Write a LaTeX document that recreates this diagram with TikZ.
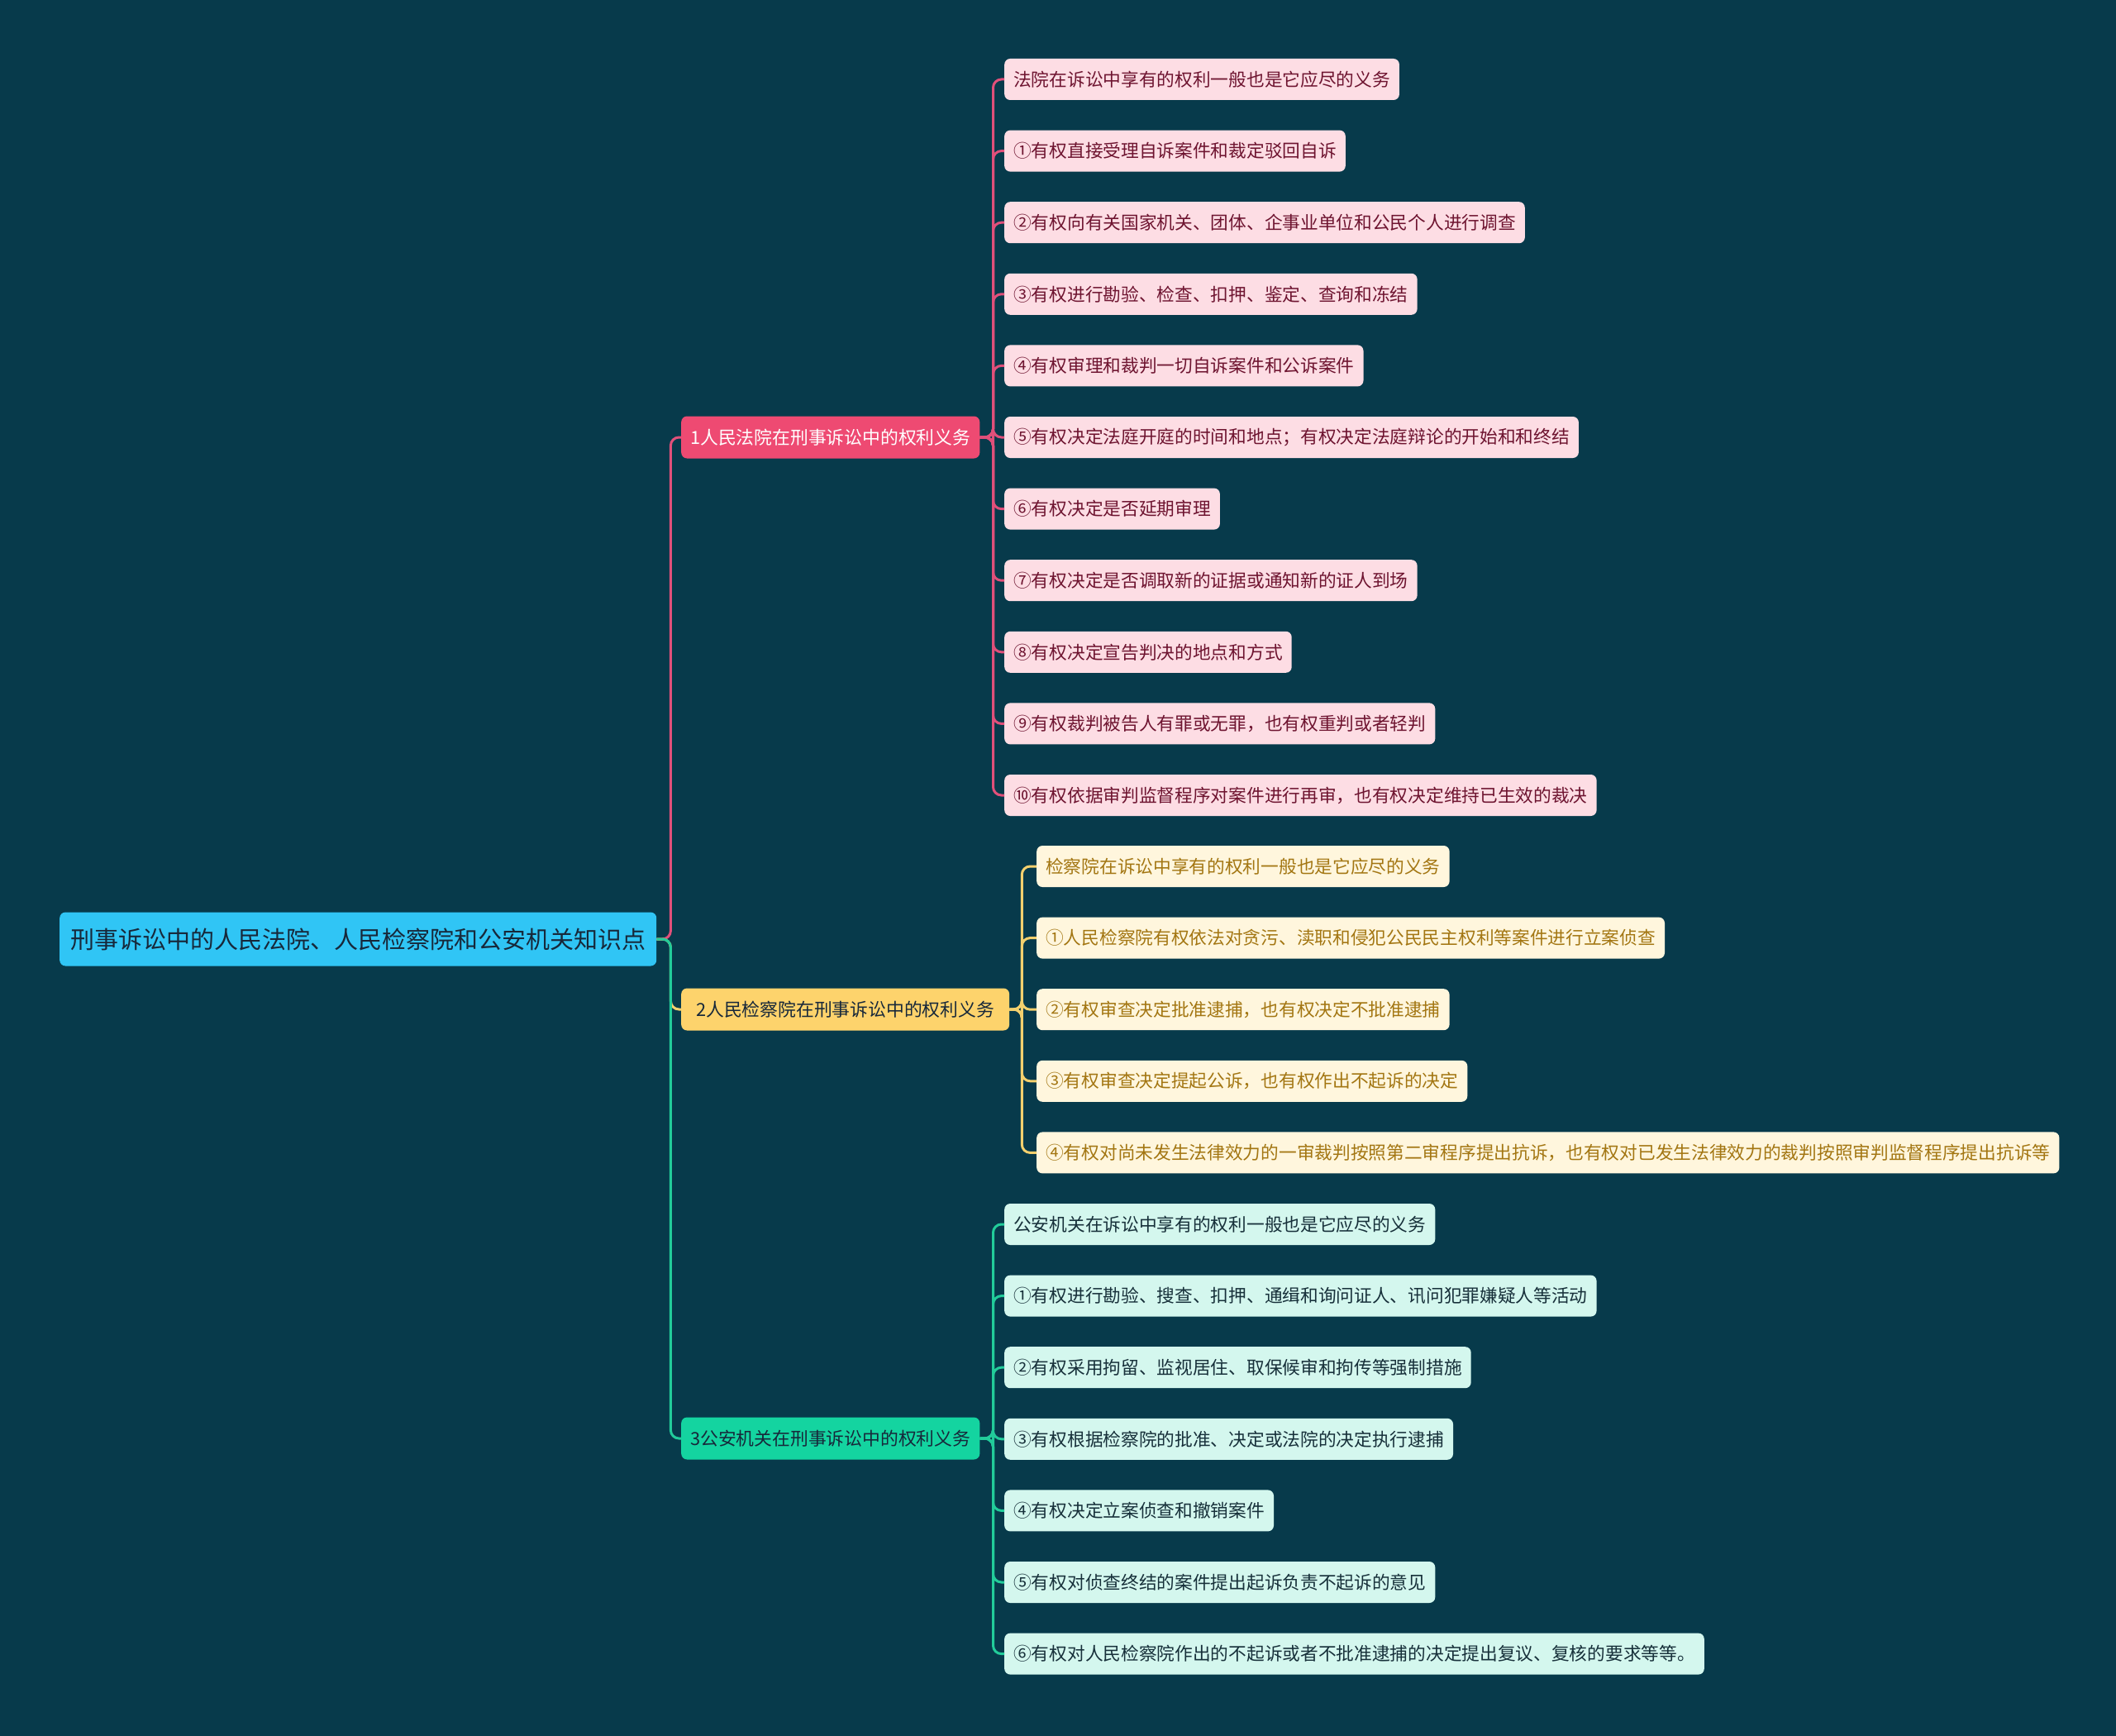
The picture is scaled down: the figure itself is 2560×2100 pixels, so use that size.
\documentclass[tikz,border=0pt]{standalone}
\usepackage{fontspec}
\setmainfont{Noto Sans CJK SC}
\usetikzlibrary{positioning}
\definecolor{bg}{HTML}{073A4B}
\definecolor{topicblue}{HTML}{30C5F5}
\definecolor{darktext}{HTML}{17283A}
\definecolor{courtred}{HTML}{EE4A72}
\definecolor{courtline}{HTML}{E0507A}
\definecolor{courtleaf}{HTML}{FDDDE4}
\definecolor{courttext}{HTML}{6E1430}
\definecolor{procyellow}{HTML}{FDD36C}
\definecolor{procline}{HTML}{F3D06E}
\definecolor{procleaf}{HTML}{FFF6DD}
\definecolor{proctext}{HTML}{A37612}
\definecolor{policegreen}{HTML}{14D4A0}
\definecolor{policeline}{HTML}{22CC9A}
\definecolor{policeleaf}{HTML}{D4F7EE}
\definecolor{policetext}{HTML}{17303A}
\tikzset{
 topic/.style={anchor=west,rounded corners=7pt,fill=topicblue,text=darktext,inner xsep=13pt,inner ysep=0pt,minimum height=65pt,font=\fontsize{29}{34}\selectfont},
 branch/.style={anchor=west,rounded corners=7pt,inner xsep=11pt,inner ysep=0pt,minimum height=51pt,font=\fontsize{21.8}{26}\selectfont},
 leaf/.style={anchor=west,rounded corners=7pt,inner xsep=11pt,inner ysep=0pt,minimum height=50pt,font=\fontsize{21.7}{26}\selectfont},
 link/.style={line width=3pt,rounded corners=10pt}
}
\begin{document}
\begin{tikzpicture}[x=1pt,y=-1pt]
\path[use as bounding box,fill=bg] (0,0) rectangle (2560,2100);
\node[topic] (root) at (72,1136) {刑事诉讼中的人民法院、人民检察院和公安机关知识点};
\node[branch,fill=courtred,text=white] (b1) at (824,529) {1人民法院在刑事诉讼中的权利义务};
\node[branch,fill=procyellow,text=darktext,inner xsep=18pt] (b2) at (824,1221) {2人民检察院在刑事诉讼中的权利义务};
\node[branch,fill=policegreen,text=darktext] (b3) at (824,1740) {3公安机关在刑事诉讼中的权利义务};
\draw[link,courtline] (root.east) -- ++(17,0) |- (b1.west);
\draw[link,procline] (root.east) -- ++(17,0) |- (b2.west);
\draw[link,policeline] (root.east) -- ++(17,0) |- (b3.west);
% court
\foreach \t [count=\i from 0] in {法院在诉讼中享有的权利一般也是它应尽的义务,①有权直接受理自诉案件和裁定驳回自诉,②有权向有关国家机关、团体、企事业单位和公民个人进行调查,③有权进行勘验、检查、扣押、鉴定、查询和冻结,④有权审理和裁判一切自诉案件和公诉案件,⑤有权决定法庭开庭的时间和地点；有权决定法庭辩论的开始和和终结,⑥有权决定是否延期审理,⑦有权决定是否调取新的证据或通知新的证人到场,⑧有权决定宣告判决的地点和方式,⑨有权裁判被告人有罪或无罪，也有权重判或者轻判,⑩有权依据审判监督程序对案件进行再审，也有权决定维持已生效的裁决}
 {\node[leaf,fill=courtleaf,text=courttext] (c\i) at (1215,{96+\i*86.6}) {\t};
  \draw[link,courtline] (b1.east) -- ++(16,0) |- (c\i.west);}
% procuratorate
\foreach \t [count=\i from 0] in {检察院在诉讼中享有的权利一般也是它应尽的义务,①人民检察院有权依法对贪污、渎职和侵犯公民民主权利等案件进行立案侦查,②有权审查决定批准逮捕，也有权决定不批准逮捕,③有权审查决定提起公诉，也有权作出不起诉的决定,④有权对尚未发生法律效力的一审裁判按照第二审程序提出抗诉，也有权对已发生法律效力的裁判按照审判监督程序提出抗诉等}
 {\node[leaf,fill=procleaf,text=proctext] (p\i) at (1254,{1048+\i*86.6}) {\t};
  \draw[link,procline] (b2.east) -- ++(15,0) |- (p\i.west);}
% police
\foreach \t [count=\i from 0] in {公安机关在诉讼中享有的权利一般也是它应尽的义务,①有权进行勘验、搜查、扣押、通缉和询问证人、讯问犯罪嫌疑人等活动,②有权采用拘留、监视居住、取保候审和拘传等强制措施,③有权根据检察院的批准、决定或法院的决定执行逮捕,④有权决定立案侦查和撤销案件,⑤有权对侦查终结的案件提出起诉负责不起诉的意见,⑥有权对人民检察院作出的不起诉或者不批准逮捕的决定提出复议、复核的要求等等。}
 {\node[leaf,fill=policeleaf,text=policetext] (g\i) at (1215,{1481+\i*86.6}) {\t};
  \draw[link,policeline] (b3.east) -- ++(16,0) |- (g\i.west);}
\end{tikzpicture}
\end{document}
